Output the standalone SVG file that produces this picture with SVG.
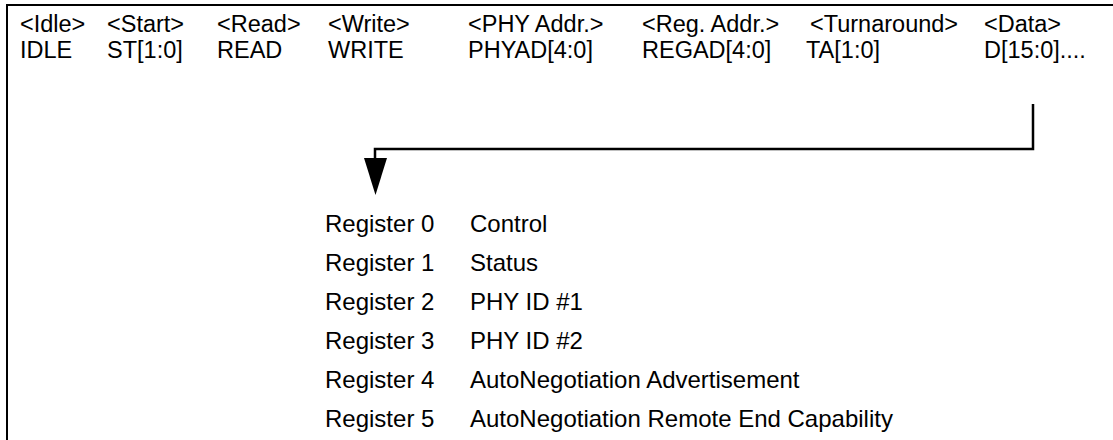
<svg xmlns="http://www.w3.org/2000/svg" width="1113" height="440" viewBox="0 0 1113 440">
<style>
text{font-family:"Liberation Sans",Arial,sans-serif;font-size:24px;fill:#000}
#header text{font-size:23.5px}
.frame{fill:none;stroke:#000;stroke-width:2}
.conn{fill:none;stroke:#000;stroke-width:2.5}
.head{fill:#000;stroke:none}
</style>
<rect fill="#fff" width="1113" height="440"/>
<g id="frame">
<path class="frame" d="M7,450 V5 H1120"/>
</g>
<g id="header">
<text x="20" y="32">&lt;Idle&gt;</text>
<text x="107" y="32">&lt;Start&gt;</text>
<text x="217" y="32">&lt;Read&gt;</text>
<text x="328" y="32">&lt;Write&gt;</text>
<text x="468" y="32">&lt;PHY Addr.&gt;</text>
<text x="642" y="32">&lt;Reg. Addr.&gt;</text>
<text x="810" y="32">&lt;Turnaround&gt;</text>
<text x="984" y="32">&lt;Data&gt;</text>
<text x="20" y="58">IDLE</text>
<text x="107" y="58">ST[1:0]</text>
<text x="217" y="58">READ</text>
<text x="328" y="58">WRITE</text>
<text x="468" y="58">PHYAD[4:0]</text>
<text x="642" y="58">REGAD[4:0]</text>
<text x="806" y="58">TA[1:0]</text>
<text x="984" y="58">D[15:0]....</text>
</g>
<g id="connectors">
<path class="conn" d="M1033,104 V149 H375 V159"/>
<path class="head" d="M364,158 L387,158 L375.5,195 Z"/>
</g>
<g id="registers">
<text x="325" y="232">Register 0</text><text x="470" y="232">Control</text>
<text x="325" y="271">Register 1</text><text x="470" y="271">Status</text>
<text x="325" y="310">Register 2</text><text x="470" y="310">PHY ID #1</text>
<text x="325" y="349">Register 3</text><text x="470" y="349">PHY ID #2</text>
<text x="325" y="388">Register 4</text><text x="470" y="388">AutoNegotiation Advertisement</text>
<text x="325" y="427">Register 5</text><text x="470" y="427">AutoNegotiation Remote End Capability</text>
</g>
</svg>
